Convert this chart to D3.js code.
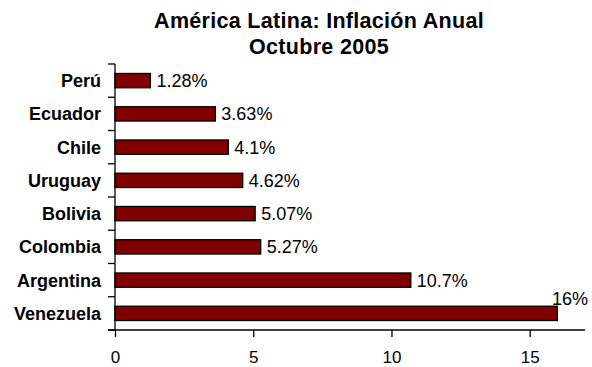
<!DOCTYPE html>
<html><head><meta charset="utf-8">
<script src="https://cdn.jsdelivr.net/npm/d3@7"></script>
<style>
html,body{margin:0;padding:0;background:#fff;}
svg{display:block;font-family:Arial,"Liberation Sans",sans-serif;}
</style></head>
<body><svg id="c" width="592" height="367"></svg>
<script>
const titleLines = ["América Latina: Inflación Anual", "Octubre 2005"];
const countries = ["Perú","Ecuador","Chile","Uruguay","Bolivia","Colombia","Argentina","Venezuela"];
const inflation = [1.28, 3.63, 4.1, 4.62, 5.07, 5.27, 10.7, 16];
const valueLabels = ["1.28%","3.63%","4.1%","4.62%","5.07%","5.27%","10.7%","16%"];
const xTicks = [0, 5, 10, 15];

const svg = d3.select("#c");
const m = {left:115, right:7, top:64, bottom:37};
const W = 592, H = 367;
const x = d3.scaleLinear().domain([0,17]).range([m.left, W - m.right]);
const y = d3.scaleBand().domain(countries).range([m.top, H - m.bottom]).paddingInner(0.57).paddingOuter(0.285);
const yEdge = d3.scaleLinear().domain([0, countries.length]).range([m.top, H - m.bottom]);

svg.append("g").selectAll("text").data(titleLines).join("text")
  .attr("x", 319).attr("y", (d,i)=>27.5 + i*26)
  .attr("text-anchor","middle").attr("font-weight","bold").attr("font-size",21.5)
  .attr("letter-spacing", 0.3)
  .text(d=>d);

// bars
svg.append("g").selectAll("rect").data(countries).join("rect")
  .attr("x", x(0)).attr("y", d=>y(d))
  .attr("width", (d,i)=>x(inflation[i]) - x(0))
  .attr("height", y.bandwidth())
  .attr("fill","#800000").attr("stroke","#000").attr("stroke-width",1.3);

// value labels
svg.append("g").selectAll("text").data(countries).join("text")
  .attr("x", (d,i)=> i===7 ? W - 4 : x(inflation[i]) + 6)
  .attr("y", (d,i)=> i===7 ? y(d) - 1 : y(d) + y.bandwidth()/2 + 6.5)
  .attr("text-anchor", (d,i)=> i===7 ? "end" : "start")
  .attr("font-size",18)
  .text((d,i)=>valueLabels[i]);

// y axis with ticks at category boundaries
const ya = svg.append("g");
ya.append("line").attr("x1",x(0)).attr("x2",x(0)).attr("y1",yEdge(0)).attr("y2",yEdge(countries.length)).attr("stroke","#000").attr("stroke-width",1.3);
ya.selectAll("line.t").data(d3.range(countries.length+1)).join("line").attr("class","t")
  .attr("x1",x(0)-7).attr("x2",x(0)).attr("y1",d=>yEdge(d)).attr("y2",d=>yEdge(d)).attr("stroke","#000").attr("stroke-width",1.3);
ya.selectAll("text").data(countries).join("text")
  .attr("x", x(0)-14).attr("y", d=>y(d)+y.bandwidth()/2 + 6.5)
  .attr("text-anchor","end").attr("font-weight","bold").attr("font-size",18)
  .text(d=>d);

// x axis
const xa = svg.append("g").attr("transform",`translate(0,${H - m.bottom})`)
  .call(d3.axisBottom(x).tickValues(xTicks).tickSize(7).tickPadding(14).tickSizeOuter(0));
xa.select(".domain").attr("stroke","#000").attr("stroke-width",1.3).attr("d",`M${x(0)-7},0H${W-m.right}`);
xa.selectAll(".tick line").attr("stroke","#000").attr("stroke-width",1.3);
xa.selectAll(".tick text").attr("font-size",17).attr("font-family","Arial, 'Liberation Sans', sans-serif").attr("fill","#000");
</script></body></html>
